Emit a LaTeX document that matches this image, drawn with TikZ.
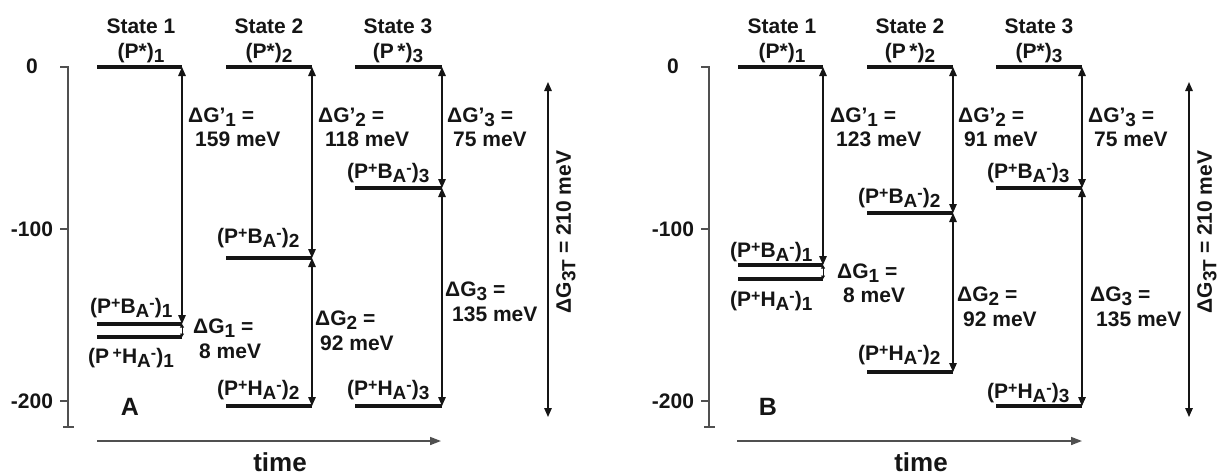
\documentclass[tikz,border=0pt]{standalone}
\usepackage{fontspec}
\setmainfont{Liberation Sans}
\usetikzlibrary{arrows.meta}
\definecolor{ink}{HTML}{151515}
\definecolor{axisc}{HTML}{505050}
\newcommand{\sbs}[1]{\raisebox{-4.5pt}{\fontsize{19}{19}\selectfont #1}}
\newcommand{\sps}[1]{\raisebox{5pt}{\fontsize{16}{16}\selectfont #1}}
\newcommand{\PB}[1]{(P\sps{+}B\sbs{A}\sps{-})\sbs{#1}}
\newcommand{\PH}[1]{(P\sps{+}H\sbs{A}\sps{-})\sbs{#1}}
\tikzset{
  lab/.style={font=\fontsize{21}{24}\selectfont\bfseries, text=ink, inner sep=0pt, anchor=base west},
  labc/.style={lab, anchor=base},
  panellab/.style={font=\fontsize{25}{28}\selectfont\bfseries, text=ink, inner sep=0pt, anchor=base},
  timelab/.style={font=\fontsize{26}{28}\selectfont\bfseries, text=ink, inner sep=0pt, anchor=base},
  level/.style={draw=ink, line width=3.3pt},
  dbl/.style={draw=ink, line width=1.4pt, arrows={Triangle[length=9pt,width=7.5pt]-Triangle[length=9pt,width=7.5pt]}},
  tinyarr/.style={draw=ink, line width=0.7pt, arrows={Triangle[length=3.5pt,width=4pt]-Triangle[length=3.5pt,width=4pt]}},
  axis/.style={draw=axisc, line width=1.6pt},
  timearr/.style={draw=axisc, line width=1.6pt, arrows={-Triangle[length=11pt,width=8pt]}}
}
\begin{document}
\begin{tikzpicture}[x=1pt,y=-1pt]
\useasboundingbox (0,0) rectangle (1220,475);

% ================= Panel A =================
\begin{scope}
  % axis
  \coordinate (aAx0) at (68,67); \coordinate (aAxE) at (68,427);
  \coordinate (aT0a) at (60,67); \coordinate (aT1a) at (60,229); \coordinate (aT2a) at (60,401);
  \coordinate (aT1b) at (68,229); \coordinate (aT2b) at (68,401);
  \coordinate (aCapL) at (63,427); \coordinate (aCapR) at (74,427);
  \draw[axis] (aT0a) -- (aAx0) -- (aAxE);
  \draw[axis] (aT1a) -- (aT1b);
  \draw[axis] (aT2a) -- (aT2b);
  \draw[axis] (aCapL) -- (aCapR);
  \node[labc] (aY0) at (32,73) {0};
  \node[labc] (aY1) at (32,236) {-100};
  \node[labc] (aY2) at (32,408) {-200};
  % time
  \coordinate (aTm0) at (97,441); \coordinate (aTm1) at (441,441);
  \draw[timearr] (aTm0) -- (aTm1);
  \node[timelab] (aTime) at (280,471) {time};
  \node[panellab] (aPanel) at (130,415) {A};
  % levels
  \coordinate (a1L) at (97,67);  \coordinate (a1P) at (182,67);
  \coordinate (a1BL) at (97,324); \coordinate (a1B) at (182,324);
  \coordinate (a1HL) at (97,337); \coordinate (a1H) at (182,337);
  \coordinate (a2L) at (226,67);  \coordinate (a2P) at (312,67);
  \coordinate (a2BL) at (226,258); \coordinate (a2B) at (312,258);
  \coordinate (a2HL) at (226,406); \coordinate (a2H) at (312,406);
  \coordinate (a3L) at (355,67);  \coordinate (a3P) at (442,67);
  \coordinate (a3BL) at (355,188); \coordinate (a3B) at (442,188);
  \coordinate (a3HL) at (355,406); \coordinate (a3H) at (442,406);
  \foreach \s/\e in {a1L/a1P,a1BL/a1B,a1HL/a1H,a2L/a2P,a2BL/a2B,a2HL/a2H,a3L/a3P,a3BL/a3B,a3HL/a3H}
    \draw[level] (\s) -- (\e);
  \draw[dbl] (a1P) -- (a1B);
  \draw[tinyarr] (a1B) -- (a1H);
  \draw[dbl] (a2P) -- (a2B);
  \draw[dbl] (a2B) -- (a2H);
  \draw[dbl] (a3P) -- (a3B);
  \draw[dbl] (a3B) -- (a3H);
  \coordinate (aGTt) at (548,82); \coordinate (aGTb) at (548,417);
  \draw[dbl] (aGTt) -- (aGTb);
  \node[lab, anchor=center, rotate=90] (aGT) at (566,232) {ΔG\sbs{3T} = 210 meV};
  % state titles
  \node[labc] (aS1) at (141,33) {State 1};
  \node[labc] (aS2) at (269,33) {State 2};
  \node[labc] (aS3) at (398,33) {State 3};
  \node[labc] (aP1) at (141,58) {(P*)\sbs{1}};
  \node[labc] (aP2) at (269,58) {(P*)\sbs{2}};
  \node[labc] (aP3) at (398,58) {(P\,*)\sbs{3}};
  % level labels
  \node[lab] (aB1) at (90,313) {\PB{1}};
  \node[lab] (aH1) at (88,363) {(P\,\sps{+}H\sbs{A}\sps{-})\sbs{1}};
  \node[lab] (aB2) at (217,243) {\PB{2}};
  \node[lab] (aH2) at (217,395) {\PH{2}};
  \node[lab] (aB3) at (347,178) {\PB{3}};
  \node[lab] (aH3) at (347,395) {\PH{3}};
  % energy labels
  \node[lab] (aG1pa) at (188,122) {ΔG’\sbs{1} =};
  \node[lab] (aG1pb) at (195,146) {159 meV};
  \node[lab] (aG2pa) at (318,122) {ΔG’\sbs{2} =};
  \node[lab] (aG2pb) at (325,146) {118 meV};
  \node[lab] (aG3pa) at (447,122) {ΔG’\sbs{3} =};
  \node[lab] (aG3pb) at (453,146) {75 meV};
  \node[lab] (aG1a) at (193,333) {ΔG\sbs{1} =};
  \node[lab] (aG1b) at (199,358) {8 meV};
  \node[lab] (aG2a) at (315,325) {ΔG\sbs{2} =};
  \node[lab] (aG2b) at (320,350) {92 meV};
  \node[lab] (aG3a) at (445,296) {ΔG\sbs{3} =};
  \node[lab] (aG3b) at (452,321) {135 meV};
\end{scope}

% ================= Panel B =================
\begin{scope}[xshift=641pt]
  \coordinate (bAx0) at (68,67); \coordinate (bAxE) at (68,427);
  \coordinate (bT0a) at (60,67); \coordinate (bT1a) at (60,229); \coordinate (bT2a) at (60,401);
  \coordinate (bT1b) at (68,229); \coordinate (bT2b) at (68,401);
  \coordinate (bCapL) at (63,427); \coordinate (bCapR) at (74,427);
  \draw[axis] (bT0a) -- (bAx0) -- (bAxE);
  \draw[axis] (bT1a) -- (bT1b);
  \draw[axis] (bT2a) -- (bT2b);
  \draw[axis] (bCapL) -- (bCapR);
  \node[labc] (bY0) at (32,73) {0};
  \node[labc] (bY1) at (32,236) {-100};
  \node[labc] (bY2) at (32,408) {-200};
  \coordinate (bTm0) at (96,441); \coordinate (bTm1) at (441,441);
  \draw[timearr] (bTm0) -- (bTm1);
  \node[timelab] (bTime) at (280,471) {time};
  \node[panellab] (bPanel) at (127,415) {B};
  \coordinate (b1L) at (97,67);  \coordinate (b1P) at (182,67);
  \coordinate (b1BL) at (97,265); \coordinate (b1B) at (182,265);
  \coordinate (b1HL) at (97,279); \coordinate (b1H) at (182,279);
  \coordinate (b2L) at (226,67);  \coordinate (b2P) at (312,67);
  \coordinate (b2BL) at (226,213); \coordinate (b2B) at (312,213);
  \coordinate (b2HL) at (226,372); \coordinate (b2H) at (312,372);
  \coordinate (b3L) at (355,67);  \coordinate (b3P) at (441,67);
  \coordinate (b3BL) at (355,188); \coordinate (b3B) at (441,188);
  \coordinate (b3HL) at (355,406); \coordinate (b3H) at (441,406);
  \foreach \s/\e in {b1L/b1P,b1BL/b1B,b1HL/b1H,b2L/b2P,b2BL/b2B,b2HL/b2H,b3L/b3P,b3BL/b3B,b3HL/b3H}
    \draw[level] (\s) -- (\e);
  \draw[dbl] (b1P) -- (b1B);
  \draw[tinyarr] (b1B) -- (b1H);
  \draw[dbl] (b2P) -- (b2B);
  \draw[dbl] (b2B) -- (b2H);
  \draw[dbl] (b3P) -- (b3B);
  \draw[dbl] (b3B) -- (b3H);
  \coordinate (bGTt) at (548,82); \coordinate (bGTb) at (548,417);
  \draw[dbl] (bGTt) -- (bGTb);
  \node[lab, anchor=center, rotate=90] (bGT) at (566,232) {ΔG\sbs{3T} = 210 meV};
  \node[labc] (bS1) at (141,33) {State 1};
  \node[labc] (bS2) at (269,33) {State 2};
  \node[labc] (bS3) at (398,33) {State 3};
  \node[labc] (bP1) at (141,58) {(P*)\sbs{1}};
  \node[labc] (bP2) at (269,58) {(P\,*)\sbs{2}};
  \node[labc] (bP3) at (398,58) {(P*)\sbs{3}};
  \node[lab] (bB1) at (89,257) {\PB{1}};
  \node[lab] (bH1) at (89,306) {\PH{1}};
  \node[lab] (bB2) at (217,203) {\PB{2}};
  \node[lab] (bH2) at (217,360) {\PH{2}};
  \node[lab] (bB3) at (346,178) {\PB{3}};
  \node[lab] (bH3) at (346,398) {\PH{3}};
  \node[lab] (bG1pa) at (189,122) {ΔG’\sbs{1} =};
  \node[lab] (bG1pb) at (195,146) {123 meV};
  \node[lab] (bG2pa) at (317,122) {ΔG’\sbs{2} =};
  \node[lab] (bG2pb) at (323,146) {91 meV};
  \node[lab] (bG3pa) at (447,122) {ΔG’\sbs{3} =};
  \node[lab] (bG3pb) at (453,146) {75 meV};
  \node[lab] (bG1a) at (196,278) {ΔG\sbs{1} =};
  \node[lab] (bG1b) at (202,302) {8 meV};
  \node[lab] (bG2a) at (316,301) {ΔG\sbs{2} =};
  \node[lab] (bG2b) at (322,326) {92 meV};
  \node[lab] (bG3a) at (449,301) {ΔG\sbs{3} =};
  \node[lab] (bG3b) at (455,326) {135 meV};
\end{scope}
\end{tikzpicture}
\end{document}
